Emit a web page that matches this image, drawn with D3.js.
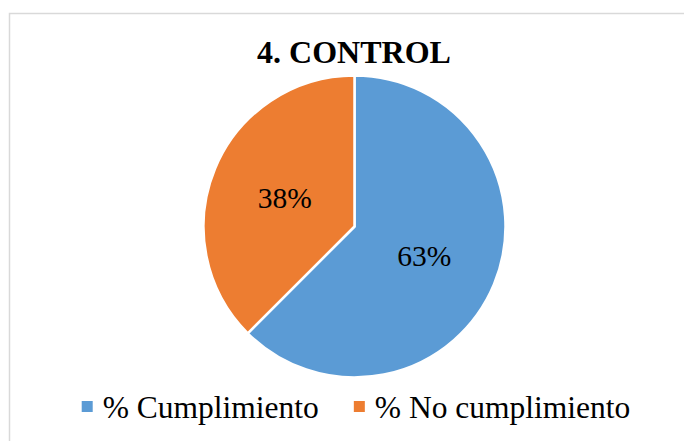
<!DOCTYPE html>
<html>
<head>
<meta charset="utf-8">
<script src="https://cdn.jsdelivr.net/npm/d3@7"></script>
<style>
html,body{margin:0}
svg, svg text { font-family: "Liberation Serif", Tinos, "Times New Roman", serif !important; }
</style>
</head>
<body>
<script>
const title = "4. CONTROL";
const categories = ["% Cumplimiento", "% No cumplimiento"];
const values = [62.5, 37.5];
const labels = ["63%", "38%"];
const colors = ["#5B9BD5", "#ED7D31"];

const W = 684, H = 441;
const svg = d3.select("body").append("svg").attr("width", W).attr("height", H)
  .style("font-family", "Liberation Serif");

// chart area border
svg.append("rect")
  .attr("x", 9.5).attr("y", 13.5)
  .attr("width", 700).attr("height", 460)
  .attr("fill", "none").attr("stroke", "#d9d9d9").attr("stroke-width", 1.5);

svg.append("text")
  .attr("x", 354).attr("y", 63)
  .attr("text-anchor", "middle")
  .attr("font-weight", "bold").attr("font-size", 32)
  .text(title);

const cx = 354.5, cy = 226.5, R = 151;
const pie = d3.pie().sort(null).value(d => d)(values);
const arc = d3.arc().innerRadius(0).outerRadius(R);
const g = svg.append("g").attr("transform", `translate(${cx},${cy})`);

g.selectAll("path").data(pie).enter().append("path")
  .attr("d", arc)
  .attr("fill", (d, i) => colors[i])
  .attr("stroke", "#fff").attr("stroke-width", 2.5).attr("stroke-linejoin", "round");

g.selectAll("text.lbl").data(pie).enter().append("text")
  .attr("class", "lbl")
  .attr("x", d => arc.centroid(d)[0])
  .attr("y", d => arc.centroid(d)[1] + 10.5)
  .attr("text-anchor", "middle")
  .attr("font-size", 29.5)
  .text((d, i) => labels[i]);

// legend
const legendFont = 31.5;
const sq = 11, gapSqText = 10, gapItems = 35, legendBaseline = 418;
const lg = svg.append("g");
const items = lg.selectAll("g").data(categories).enter().append("g");
items.append("rect")
  .attr("width", sq).attr("height", sq)
  .attr("y", legendBaseline - 17)
  .attr("fill", (d, i) => colors[i]);
items.append("text")
  .attr("x", sq + gapSqText).attr("y", legendBaseline)
  .attr("font-size", legendFont)
  .text(d => d);
let widths = [];
items.each(function() { widths.push(this.getBBox().width); });
const total = d3.sum(widths) + gapItems * (widths.length - 1);
let x0 = 356 - total / 2;
items.attr("transform", (d, i) => {
  const t = `translate(${x0},0)`;
  x0 += widths[i] + gapItems;
  return t;
});
</script>
</body>
</html>
